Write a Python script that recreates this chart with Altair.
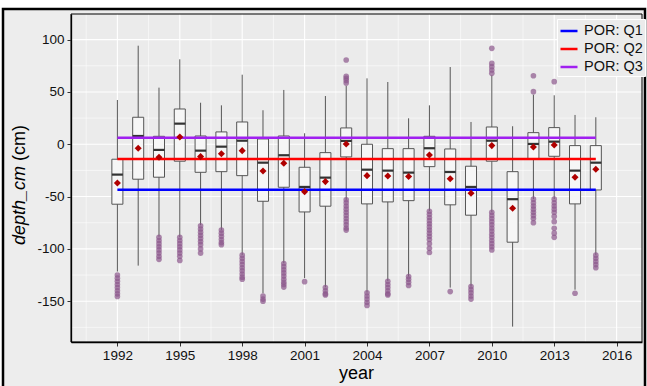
import altair as alt
import pandas as pd

# ---- data ----
years = list(range(1992, 2016))
whisk_lo = [-121.7, -116, -88.3, -88.9, -77.4, -81.9, -105.8, -142.4, -113.7, -128, -136.7, -53.2,
            -141.8, -130.6, -126.4, -63.7, -137, -136, -65, -174.3, -52.5, -52.5, -139, -105.8]
q1 = [-57.3, -33.4, -31.5, -16.2, -26.8, -26.2, -30, -54.5, -41.1, -64.7, -59.2, -12.1,
      -57, -55.1, -53.9, -21.4, -57.9, -67.8, -16.2, -93.6, -14.3, -11.5, -57, -43.7]
median = [-29, 7.9, -5.4, 19.7, -6.1, -2.3, 3.4, -17.6, -10.5, -40.8, -31.9, 3.2,
          -24.3, -25.2, -27.1, -3.8, -26.5, -40.8, 3.4, -52.5, 0.3, 2.5, -25.2, -17.6]
q3 = [-14.3, 25.8, 7.6, 33.7, 7.9, 11.8, 21.3, 5.1, 7.9, -22, -8, 15.6,
      0, -4.2, -4.2, 7.6, -4.5, -21, 16.5, -26.2, 11.1, 15.9, -1.3, -1.3]
whisk_hi = [42.3, 94.2, 54.1, 81.2, 39.7, 37.2, 66.5, 32.5, 51.9, 10.5, 46.1, 55.7,
            63, 59.5, 24.8, 37.2, 73.8, 21.3, 65.9, 17.2, 47.4, 46.8, 28, 25.8]
mean = [-37, -3.8, -12.4, 7, -11.8, -9, -6.1, -25.5, -18.2, -45.3, -35.7, 0.3,
        -30, -30.3, -30.9, -10.2, -32.9, -46.9, -1.3, -61.1, -2.6, -0.7, -31.5, -23.9]
outliers = [
    [-125, -128, -131, -134, -137, -140, -143, -145.5],
    [],
    [-89, -92, -95, -98, -101, -104, -107, -110],
    [-89, -92, -95, -98, -101, -104, -107, -111],
    [-78, -81, -84, -87, -90, -93, -96, -100, -104],
    [-82, -85, -88, -91, -94, -96],
    [-106, -109, -112, -115, -118, -121, -124, -127, -129],
    [-145, -148, -150],
    [-114, -117, -120, -123, -126, -129, -132, -134, -136.5],
    [-131.3],
    [-137, -140, -143, -144],
    [80.5, 65, 63, 61, 58.5, -53, -56, -59, -62, -65, -68, -71, -74, -77, -80, -82],
    [-142, -145, -148, -151, -154],
    [-131, -134, -137, -140, -143, -144],
    [-126.5, -129, -132, -135],
    [-64, -67, -70, -73, -76, -79, -82, -85, -88, -91, -95, -99.5, -103.5],
    [-140.8],
    [-136, -139, -142, -145, -148],
    [91.7, 77.3, 74.2, 71, 67.8, -65, -68, -71, -74, -77, -80, -83, -86, -89, -92, -95, -98, -101],
    [],
    [65.5, 50.3, -52.5, -56, -59, -62, -65, -68, -71, -75],
    [59.8, -52.5, -56, -59, -62, -65, -69, -74, -80.3, -85, -89],
    [-142.4],
    [-106, -109, -112, -115, -118],
]
ref_labels = ["POR: Q1", "POR: Q2", "POR: Q3"]
ref_values = [-43.4, -14, 6.3]
ref_colors = ["#0000FF", "#FF0000", "#A020F0"]

x_ticks = [1992, 1995, 1998, 2001, 2004, 2007, 2010, 2013, 2016]
x_minor = [1990.5, 1993.5, 1996.5, 1999.5, 2002.5, 2005.5, 2008.5, 2011.5, 2014.5]
y_ticks = [-150, -100, -50, 0, 50, 100]
y_minor = [-175, -125, -75, -25, 25, 75]

# ---- tables ----
box_df = pd.DataFrame({"year": years, "lo": whisk_lo, "q1": q1, "med": median,
                       "q3": q3, "hi": whisk_hi, "mean": mean})
out_rows = [(y, v) for y, vals in zip(years, outliers) for v in vals]
out_df = pd.DataFrame(out_rows, columns=["year", "value"])
ref_df = pd.DataFrame({"label": ref_labels, "value": ref_values,
                       "x0": [years[0]] * 3, "x1": [years[-1]] * 3})
one = pd.DataFrame({"a": [0]})

W, H = 571, 328
HALF = 0.265
xs = alt.Scale(domain=[1989.77, 2017.22], nice=False, zero=False)
ys = alt.Scale(domain=[-189, 124.5], nice=False, zero=False)

X = alt.X("year:Q", scale=xs,
          axis=alt.Axis(values=x_ticks, format="d", title=None, grid=False,
                        labelFontSize=13.5, labelColor="#111", labelPadding=2,
                        tickSize=4, tickColor="#333", domainColor="black",
                        domainWidth=1.3, zindex=1))
Y = alt.Y("lo:Q", scale=ys,
          axis=alt.Axis(values=y_ticks, title=None, grid=False,
                        labelExpr="toString(datum.value)",
                        labelFontSize=13.5, labelColor="#111", labelPadding=3,
                        tickSize=4, tickColor="#333", domainColor="black",
                        domainWidth=1.3, zindex=1))

frame = alt.Chart(one).mark_rect(fill="#EDEDED", stroke="black", strokeWidth=2.5).encode(
    x=alt.value(-68), x2=alt.value(574), y=alt.value(-5), y2=alt.value(420))
panel = alt.Chart(one).mark_rect(fill="#EBEBEB").encode(
    x=alt.value(0), x2=alt.value(W), y=alt.value(0), y2=alt.value(H))

gx_major = alt.Chart(pd.DataFrame({"v": x_ticks})).mark_rule(color="white", strokeWidth=1.1).encode(
    x=alt.X("v:Q", scale=xs))
gx_minor = alt.Chart(pd.DataFrame({"v": x_minor})).mark_rule(color="white", strokeWidth=0.55).encode(
    x=alt.X("v:Q", scale=xs))
gy_major = alt.Chart(pd.DataFrame({"v": y_ticks})).mark_rule(color="white", strokeWidth=1.1).encode(
    y=alt.Y("v:Q", scale=ys))
gy_minor = alt.Chart(pd.DataFrame({"v": y_minor})).mark_rule(color="white", strokeWidth=0.55).encode(
    y=alt.Y("v:Q", scale=ys))

base = alt.Chart(box_df).transform_calculate(xl=f"datum.year - {HALF}", xr=f"datum.year + {HALF}")

whiskers = base.mark_rule(color="#555", strokeWidth=1).encode(x=X, y=Y, y2="hi:Q")
boxes = base.mark_rect(fill="#F6F6F6", stroke="#555", strokeWidth=1).encode(
    x=alt.X("xl:Q", scale=xs), x2="xr:Q", y=alt.Y("q1:Q", scale=ys), y2="q3:Q")
medians = base.mark_rule(color="#333", strokeWidth=2.2).encode(
    x=alt.X("xl:Q", scale=xs), x2="xr:Q", y=alt.Y("med:Q", scale=ys))

refs = alt.Chart(ref_df).mark_rule(strokeWidth=2.5).encode(
    x=alt.X("x0:Q", scale=xs), x2="x1:Q", y=alt.Y("value:Q", scale=ys),
    color=alt.Color("label:N", scale=alt.Scale(domain=ref_labels, range=ref_colors),
                    legend=alt.Legend(title=None, orient="none", legendX=486, legendY=5,
                                      symbolType="stroke", symbolStrokeWidth=2.5,
                                      symbolSize=289, labelFontSize=14.5, labelColor="#111",
                                      labelOffset=5, rowPadding=1, padding=2,
                                      fillColor="#EBEBEB", strokeColor="white")))

outs = alt.Chart(out_df).mark_circle(size=32, color="#8B578B", opacity=0.7).encode(
    x=alt.X("year:Q", scale=xs), y=alt.Y("value:Q", scale=ys))
means = base.mark_point(shape="diamond", filled=True, size=50, color="#B00000", opacity=1).encode(
    x=alt.X("year:Q", scale=xs), y=alt.Y("mean:Q", scale=ys))

border = alt.Chart(one).mark_rect(fill="transparent", stroke="black", strokeWidth=1).encode(
    x=alt.value(0), x2=alt.value(W), y=alt.value(0), y2=alt.value(H))

ytitle1 = alt.Chart(pd.DataFrame({"t": ["depth_cm"]})).mark_text(
    angle=270, align="left", baseline="alphabetic", fontSize=18, fontStyle="italic",
    color="black").encode(text="t:N", x=alt.value(-46), y=alt.value(231))
ytitle2 = alt.Chart(pd.DataFrame({"t": ["(cm)"]})).mark_text(
    angle=270, align="left", baseline="alphabetic", fontSize=18,
    color="black").encode(text="t:N", x=alt.value(-46), y=alt.value(147))
xtitle = alt.Chart(pd.DataFrame({"t": ["year"]})).mark_text(
    align="center", baseline="alphabetic", fontSize=18, color="black").encode(
    text="t:N", x=alt.value(285.5), y=alt.value(365))

chart = alt.layer(
    frame, panel, gx_minor, gy_minor, gx_major, gy_major,
    whiskers, boxes, medians, refs, outs, means, border,
    ytitle1, ytitle2, xtitle,
).properties(
    width=W, height=H,
    autosize=alt.AutoSizeParams(type="none"),
    padding={"left": 71, "top": 14, "right": 5, "bottom": 44},
    background="white",
).configure(font="Liberation Sans").configure_view(strokeWidth=0)

chart.save("out.html", embed_options={"renderer": "svg", "actions": False})
